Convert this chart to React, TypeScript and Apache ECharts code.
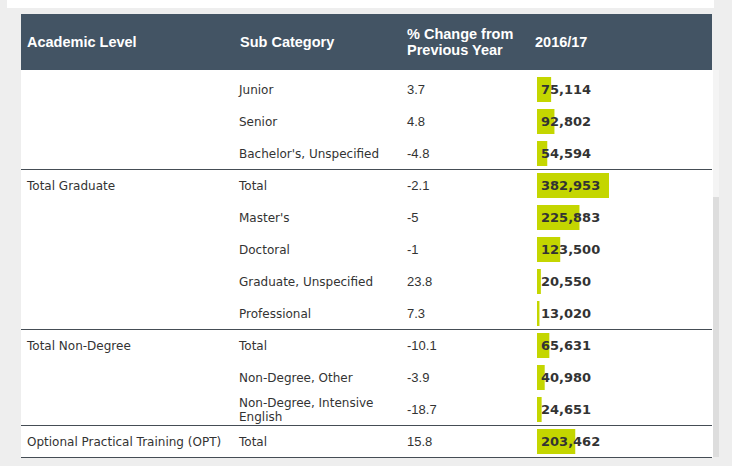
import React, { useEffect, useRef } from "react";
import * as echarts from "echarts";

const academicLevels = ["", "", "", "Total Graduate", "", "", "", "", "Total Non-Degree", "", "", "Optional Practical Training (OPT)"];
const subCategories = [
  "Junior",
  "Senior",
  "Bachelor's, Unspecified",
  "Total",
  "Master's",
  "Doctoral",
  "Graduate, Unspecified",
  "Professional",
  "Total",
  "Non-Degree, Other",
  "Non-Degree, Intensive English",
  "Total",
];
const pctChange = [3.7, 4.8, -4.8, -2.1, -5, -1, 23.8, 7.3, -10.1, -3.9, -18.7, 15.8];
const enrollment2016 = [75114, 92802, 54594, 382953, 225883, 123500, 20550, 13020, 65631, 40980, 24651, 203462];
const groupEnds = [false, false, true, false, false, false, false, true, false, false, true, true];
const headers = ["Academic Level", "Sub Category", "% Change from\nPrevious Year", "2016/17"];

const TABLE_LEFT = 21;
const TABLE_WIDTH = 691;
const BODY_TOP = 73.5;
const ROW_H = 32;
const COL_X = [27, 239, 407, 537];

const rowIds = subCategories.map((_, i) => String(i));

function labelAxis(x: number, formatter: (v: string, i: number) => string, extra: any = {}) {
  return {
    type: "category",
    gridIndex: 0,
    data: rowIds,
    inverse: true,
    position: "left",
    axisLine: { show: false },
    axisTick: { show: false },
    splitLine: { show: false },
    axisLabel: {
      interval: 0,
      align: "left",
      margin: -(x - TABLE_LEFT),
      formatter,
      color: "#333333",
      fontFamily: "DejaVu Sans",
      fontSize: 12,
      padding: [0, 0, 2, 0],
      ...extra,
    },
  };
}

export default function App() {
  const ref = useRef<HTMLDivElement>(null);
  useEffect(() => {
    const chart = echarts.init(ref.current!, null, { renderer: "svg" });
    const bodyH = ROW_H * subCategories.length;
    const option: any = {
      animation: false,
      backgroundColor: "#eeeeee",
      grid: [
        { left: TABLE_LEFT, top: BODY_TOP, width: TABLE_WIDTH, height: bodyH },
        { left: COL_X[3], top: BODY_TOP, width: 72, height: bodyH },
      ],
      xAxis: [
        { type: "value", gridIndex: 0, min: 0, max: 1, show: false },
        { type: "value", gridIndex: 1, min: 0, max: Math.max(...enrollment2016), show: false },
      ],
      yAxis: [
        labelAxis(COL_X[0], (_v, i) => academicLevels[i]),
        labelAxis(COL_X[1], (_v, i) => subCategories[i], { width: 155, overflow: "break", lineHeight: 14 }),
        labelAxis(COL_X[2], (_v, i) => String(pctChange[i]), { fontFamily: "Liberation Sans", fontSize: 13 }),
        { type: "category", gridIndex: 1, data: rowIds, inverse: true, show: false },
      ],
      graphic: {
        elements: [
          { type: "rect", z: -10, shape: { x: 7, y: 0, width: 707, height: 8 }, style: { fill: "#ffffff" } },
          { type: "rect", z: -10, shape: { x: TABLE_LEFT, y: 70, width: 692, height: 387.5 }, style: { fill: "#ffffff" } },
          { type: "rect", z: -10, shape: { x: 713, y: 70, width: 6, height: 387 }, style: { fill: "#f4f4f4" } },
          { type: "rect", z: -9, shape: { x: 713, y: 197, width: 6, height: 260 }, style: { fill: "#dddddd" } },
          { type: "rect", z: 5, shape: { x: TABLE_LEFT, y: 14, width: TABLE_WIDTH, height: 56 }, style: { fill: "#435464" } },
          ...headers.map((h, i) => ({
            type: "text",
            z: 6,
            x: [27, 240, 407, 535][i],
            y: 42,
            style: {
              text: h,
              fill: "#ffffff",
              font: "bold 14.5px 'Liberation Sans', Arial, sans-serif",
              verticalAlign: "middle",
              align: "left",
              lineHeight: 16,
            },
          })),
        ],
      },
      series: [
        {
          type: "custom",
          xAxisIndex: 0,
          yAxisIndex: 0,
          data: groupEnds.map((g, i) => (g ? [0, i] : null)).filter((d) => d !== null),
          renderItem: (params: any, api: any) => {
            const c = api.coord([0, api.value(1)]);
            const h = api.size([0, 1])[1];
            const y = c[1] + h / 2;
            const cs = params.coordSys;
            return {
              type: "line",
              shape: { x1: cs.x, y1: y, x2: cs.x + cs.width, y2: y },
              style: { stroke: "#454d55", lineWidth: 1 },
            };
          },
        },
        {
          type: "bar",
          xAxisIndex: 1,
          yAxisIndex: 3,
          data: enrollment2016,
          barWidth: 25,
          itemStyle: { color: "#c4d600" },
          label: {
            show: true,
            position: [4, "50%"],
            align: "left",
            verticalAlign: "middle",
            color: "#333333",
            fontFamily: "DejaVu Sans",
            fontWeight: "bold",
            fontSize: 13,
            formatter: (p: any) => Number(p.value).toLocaleString("en-US"),
          },
        },
      ],
    };
    chart.setOption(option);
    return () => chart.dispose();
  }, []);
  return <div ref={ref} style={{ position: "fixed", left: 0, top: 0, width: 732, height: 466 }} />;
}
